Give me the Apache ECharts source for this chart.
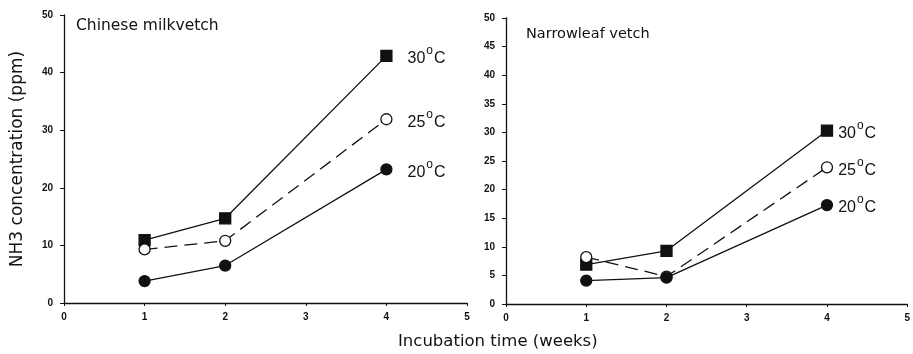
<!DOCTYPE html>
<html><head><meta charset="utf-8">
<script src="https://cdn.jsdelivr.net/npm/echarts@6/dist/echarts.min.js"></script>
<style>html,body{margin:0;padding:0;background:#fff}#c{width:913px;height:354px}</style>
</head><body><div id="c"></div>
<script>
const weeks = [1, 2, 4];
const tempLabels = ['30', '25', '20'];
const milk30 = [10.9, 14.7, 42.9];
const milk25 = [9.3, 10.8, 31.9];
const milk20 = [3.8, 6.5, 23.2];
const narrow30 = [6.9, 9.3, 30.3];
const narrow25 = [8.2, 4.8, 23.9];
const narrow20 = [4.1, 4.6, 17.3];
const panelTitles = ['Chinese milkvetch', 'Narrowleaf vetch'];
const yTitle = 'NH3 concentration (ppm)';
const xTitle = 'Incubation time (weeks)';

const FONT = '"Liberation Sans", Arial, sans-serif';
const WFONT = '"DejaVu Sans", Verdana, sans-serif';
const chart = echarts.init(document.getElementById('c'));

function pts(vals){ return weeks.map((w,i)=>[w, vals[i]]); }

function mkSeries(vals, idx, temp, symbol, filled, dashed){
  const data = pts(vals).map(p=>({value:p}));
  const last = data[data.length-1];
  last.label = {
    show: true, position: 'right', distance: idx===0 ? 15 : 5,
    formatter: '{a|' + temp + '}{s|o}{a|C}',
    rich: {
      a: {fontFamily: FONT, fontSize: 16, color: '#111', lineHeight: 22, verticalAlign:'bottom'},
      s: {fontFamily: FONT, fontSize: 12, color: '#111', lineHeight: 22, verticalAlign:'top', padding:[0,1,0,1]}
    }
  };
  return {
    type: 'line', xAxisIndex: idx, yAxisIndex: idx, data: data,
    symbol: symbol, symbolSize: 11,
    itemStyle: {color: filled ? '#111' : '#fff', borderColor: '#111', borderWidth: 1.3},
    lineStyle: {color: '#111', width: 1.3, type: dashed ? [13,7] : 'solid'},
    label: {show:false},
    emphasis: {disabled: true}, animation: false, z: 3
  };
}

const axisLabelStyle = {fontFamily: FONT, fontSize: 10, fontWeight: 'bold', color: '#111'};

function xAx(i){
  return {type:'value', gridIndex:i, min:0, max:5, interval:1,
    axisLine:{show:true, onZero:false, lineStyle:{color:'#111', width:1.3}},
    axisTick:{show:true, length:3, lineStyle:{color:'#111'}},
    axisLabel:Object.assign({margin:9}, axisLabelStyle),
    splitLine:{show:false}};
}
function yAx(i, interval){
  return {type:'value', gridIndex:i, min:0, max:50, interval:interval,
    axisLine:{show:true, lineStyle:{color:'#111', width:1.3}},
    axisTick:{show:true, length:4, lineStyle:{color:'#111'}},
    axisLabel:Object.assign({margin:11}, axisLabelStyle),
    splitLine:{show:false}};
}

const yLeft = yAx(0, 10);
yLeft.name = yTitle; yLeft.nameLocation = 'middle'; yLeft.nameGap = 38;
yLeft.nameTextStyle = {fontFamily: WFONT, fontSize: 17, color: '#111'};

chart.setOption({
  animation:false,
  backgroundColor:'#fff',
  grid:[
    {left:64, right:446, top:15, bottom:51},
    {left:506, right:5, top:18, bottom:50}
  ],
  title:[
    {text: panelTitles[0], left:71, top:13, textStyle:{fontFamily:WFONT, fontSize:15.5, fontWeight:'normal', color:'#111'}},
    {text: panelTitles[1], left:521, top:22, textStyle:{fontFamily:WFONT, fontSize:14.5, fontWeight:'normal', color:'#111'}},
    {text: xTitle, left:393, top:328, textStyle:{fontFamily:WFONT, fontSize:16.5, fontWeight:'normal', color:'#111'}}
  ],
  xAxis:[xAx(0), xAx(1)],
  yAxis:[yLeft, yAx(1, 5)],
  series:[
    mkSeries(milk30, 0, tempLabels[0], 'rect', true, false),
    mkSeries(milk25, 0, tempLabels[1], 'circle', false, true),
    mkSeries(milk20, 0, tempLabels[2], 'circle', true, false),
    mkSeries(narrow30, 1, tempLabels[0], 'rect', true, false),
    mkSeries(narrow25, 1, tempLabels[1], 'circle', false, true),
    mkSeries(narrow20, 1, tempLabels[2], 'circle', true, false)
  ]
});
</script></body></html>
